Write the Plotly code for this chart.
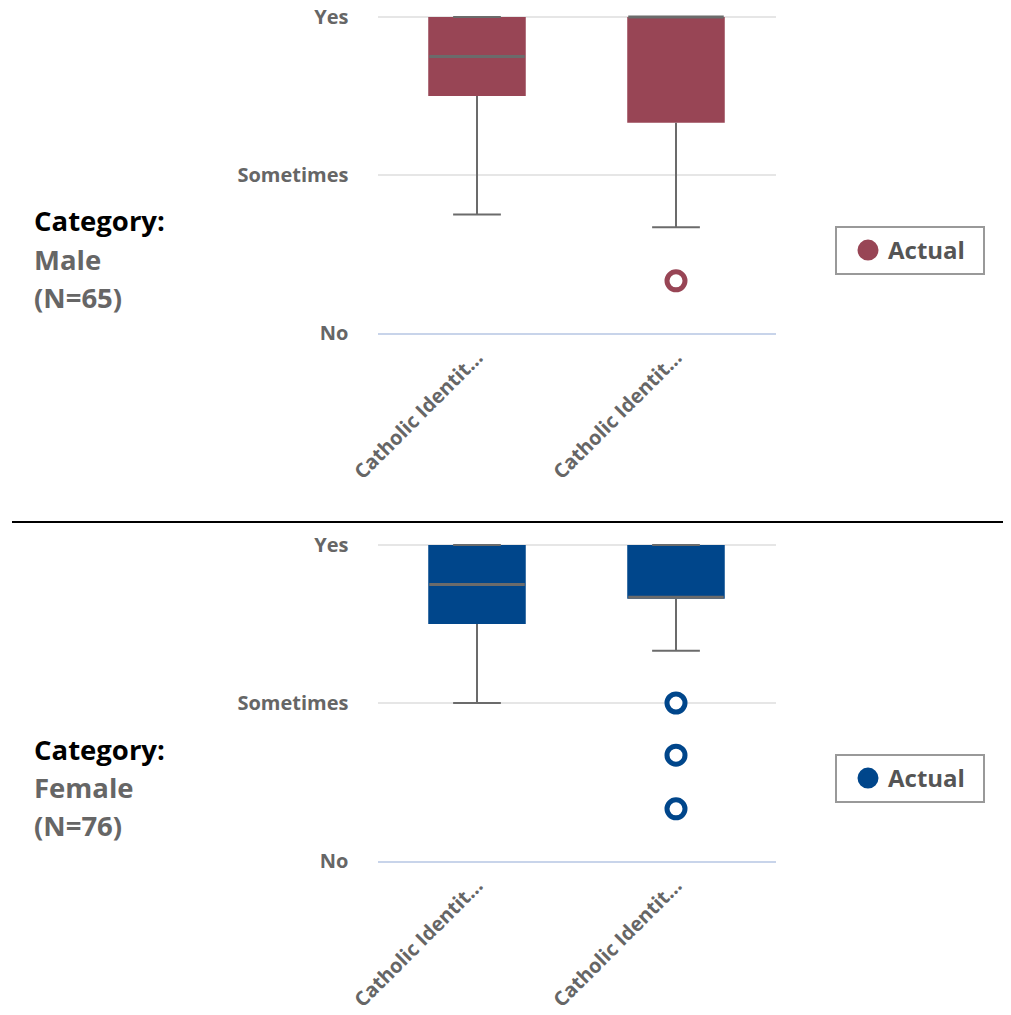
import plotly.graph_objects as go

# ---------------- data ----------------
categories = ["Catholic Identit...", "Catholic Identit..."]
y_tick_vals = [1, 2, 3]
y_tick_text = ["No", "Sometimes", "Yes"]

male_q1 = [2.5, 2.33]
male_median = [2.75, 3.0]
male_q3 = [3.0, 3.0]
male_lower = [1.75, 1.67]
male_upper = [3.0, 3.0]
male_outlier_cat = [1]
male_outlier_val = [1.33]

female_q1 = [2.5, 2.66]
female_median = [2.75, 2.67]
female_q3 = [3.0, 3.0]
female_lower = [2.0, 2.33]
female_upper = [3.0, 3.0]
female_outlier_cat = [1, 1, 1]
female_outlier_val = [2.0, 1.67, 1.33]

panel_labels = [("Male", 65), ("Female", 76)]
legend_name = "Actual"

# ---------------- style ----------------
PAGE_MARGIN = 8          # default body margin of the html page
W, H = 1011 - 2 * PAGE_MARGIN, 1015 - 2 * PAGE_MARGIN
RED = "#984555"
BLUE = "#00468B"
GRAY_LINE = "#6b6b6b"
TXT_GRAY = "#666666"
FONT = "Open Sans"


def fx(px):
    return (px - PAGE_MARGIN) / W


def fy(px):
    return 1 - (px - PAGE_MARGIN) / H


BOX_W = 0.49
CAP_HALF = 0.12
Y_RANGE = [1, 3.02]
PX_PER_UNIT = 158

fig = go.Figure()

panels = [
    dict(q1=male_q1, med=male_median, q3=male_q3, lo=male_lower, hi=male_upper,
         ox=male_outlier_cat, oy=male_outlier_val, color=RED, top=17, xa="x", ya="y",
         legend="legend"),
    dict(q1=female_q1, med=female_median, q3=female_q3, lo=female_lower, hi=female_upper,
         ox=female_outlier_cat, oy=female_outlier_val, color=BLUE, top=545, xa="x2", ya="y2",
         legend="legend2"),
]

xpos = list(range(len(categories)))

for p in panels:
    # box bodies
    fig.add_trace(go.Bar(
        x=xpos, y=[b - a for a, b in zip(p["q1"], p["q3"])], base=p["q1"],
        width=BOX_W, marker=dict(color=p["color"], line=dict(width=0)),
        xaxis=p["xa"], yaxis=p["ya"], showlegend=False, hoverinfo="skip",
    ))
    # whiskers + caps
    wx, wy = [], []
    for i in xpos:
        wx += [i, i, None, i, i, None]
        wy += [p["q1"][i], p["lo"][i], None, p["q3"][i], p["hi"][i], None]
        wx += [i - CAP_HALF, i + CAP_HALF, None, i - CAP_HALF, i + CAP_HALF, None]
        wy += [p["lo"][i], p["lo"][i], None, p["hi"][i], p["hi"][i], None]
    fig.add_trace(go.Scatter(
        x=wx, y=wy, mode="lines", line=dict(color=GRAY_LINE, width=2),
        xaxis=p["xa"], yaxis=p["ya"], showlegend=False, hoverinfo="skip",
    ))
    # medians
    mx, my = [], []
    for i in xpos:
        mx += [i - BOX_W / 2 + 0.005, i + BOX_W / 2 - 0.005, None]
        my += [p["med"][i], p["med"][i], None]
    fig.add_trace(go.Scatter(
        x=mx, y=my, mode="lines", line=dict(color=GRAY_LINE, width=3),
        xaxis=p["xa"], yaxis=p["ya"], showlegend=False, hoverinfo="skip",
    ))
    # outliers
    fig.add_trace(go.Scatter(
        x=p["ox"], y=p["oy"], mode="markers",
        marker=dict(symbol="circle", size=18, color="white",
                    line=dict(color=p["color"], width=5)),
        cliponaxis=False,
        xaxis=p["xa"], yaxis=p["ya"], showlegend=False,
    ))
    # legend entry
    fig.add_trace(go.Scatter(
        x=[None], y=[None], mode="markers", name=legend_name,
        marker=dict(symbol="circle", size=16, color=p["color"],
                    line=dict(color=p["color"], width=5)),
        xaxis=p["xa"], yaxis=p["ya"], showlegend=True, legend=p["legend"],
    ))

x_dom = [fx(377.5), fx(775.5)]

common_x = dict(
    domain=x_dom, range=[-0.5, 1.5], tickmode="array", tickvals=xpos, ticktext=categories,
    tickangle=-45, tickfont=dict(family=FONT, size=20, color=TXT_GRAY, weight="bold"),
    showgrid=False, zeroline=False, showline=True, linecolor="#c8d4ea", linewidth=2,
    ticks="", ticklabelstandoff=3, fixedrange=True, automargin=False,
    ticklabeloverflow="allow",
)
common_y = dict(
    range=Y_RANGE, tickmode="array", tickvals=y_tick_vals, ticktext=y_tick_text,
    tickfont=dict(family=FONT, size=20, color=TXT_GRAY, weight="bold"),
    showgrid=True, gridcolor="#e6e6e6", gridwidth=2, zeroline=False, showline=False,
    ticks="", ticklabelstandoff=28, fixedrange=True, automargin=False,
    ticklabeloverflow="allow",
)


def ydom(top):
    bottom = top + 2 * PX_PER_UNIT
    upper = top - (Y_RANGE[1] - 3) * PX_PER_UNIT
    return [fy(bottom), fy(upper)]


legend_common = dict(xanchor="left", yanchor="top", bordercolor="#999999", borderwidth=2,
                     bgcolor="white", orientation="h", indentation=11,
                     entrywidth=90, entrywidthmode="pixels",
                     font=dict(family=FONT, size=24, color="#555555", weight="bold"))

fig.update_layout(
    width=W, height=H, margin=dict(l=0, r=0, t=0, b=0, autoexpand=False),
    paper_bgcolor="white", plot_bgcolor="white",
    font=dict(family=FONT),
    xaxis=dict(common_x, anchor="y"),
    yaxis=dict(common_y, domain=ydom(panels[0]["top"]), anchor="x"),
    xaxis2=dict(common_x, anchor="y2"),
    yaxis2=dict(common_y, domain=ydom(panels[1]["top"]), anchor="x2"),
    legend=dict(legend_common, x=fx(835), y=fy(226)),
    legend2=dict(legend_common, x=fx(835), y=fy(754)),
    showlegend=True,
)

annotations = []
for (name, n), base in zip(panel_labels, [222, 750]):
    lines = [("Category:", "black"), (name, TXT_GRAY), (f"(N={n})", TXT_GRAY)]
    for k, (txt, col) in enumerate(lines):
        annotations.append(dict(
            text=txt, xref="paper", yref="paper", x=fx(32), y=fy(base - 1 + 38 * k),
            xanchor="left", yanchor="middle", showarrow=False,
            font=dict(family=FONT, size=27.5, color=col, weight="bold"),
        ))
fig.update_layout(annotations=annotations)

fig.add_shape(type="line", xref="paper", yref="paper", x0=fx(12), x1=fx(1008),
              y0=fy(522), y1=fy(522), line=dict(color="black", width=2))

fig.write_html("out.html")
